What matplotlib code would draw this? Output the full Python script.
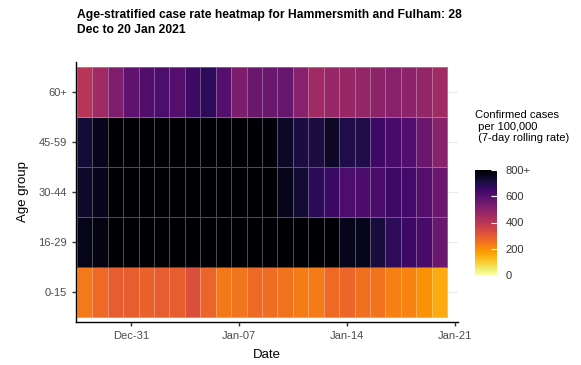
import numpy as np
import pandas as pd
import matplotlib
matplotlib.use("Agg")
import matplotlib.pyplot as plt
import matplotlib.dates as mdates

plt.rcParams['font.family'] = ['Liberation Sans', 'DejaVu Sans']

dates = pd.date_range('2020-12-28', '2021-01-20', freq='D')
age_groups = ['0-15', '16-29', '30-44', '45-59', '60+']

# 7-day rolling rate per 100,000 (values above 800 show as 800+)
rate_0_15 = [236, 268, 292, 288, 284, 292, 288, 328, 276, 240, 244, 264,
             260, 248, 232, 232, 264, 272, 256, 248, 224, 216, 192, 152]
rate_16_29 = [764, 772, 880, 920, 950, 980, 1000, 990, 960, 940, 930, 910,
              900, 890, 870, 850, 830, 760, 760, 716, 676, 644, 624, 560]
rate_30_44 = [740, 760, 870, 910, 940, 960, 970, 950, 930, 900, 880, 850,
              820, 760, 728, 680, 656, 616, 620, 620, 648, 632, 604, 560]
rate_45_59 = [724, 760, 850, 880, 900, 910, 900, 880, 860, 840, 830, 815,
              790, 744, 712, 712, 744, 700, 700, 648, 628, 612, 560, 500]
rate_60 = [408, 456, 520, 584, 608, 616, 604, 648, 676, 600, 524, 560,
           560, 568, 504, 456, 472, 472, 480, 496, 504, 492, 480, 456]

values = np.array([rate_0_15, rate_16_29, rate_30_44, rate_45_59, rate_60])

fig = plt.figure(figsize=(5.81, 3.65), dpi=100)
ax = fig.add_axes([0.1308, 0.1178, 0.6575, 0.7122])

xnum = mdates.date2num(dates)
xedges = np.append(xnum - 0.5, xnum[-1] + 0.5)
yedges = np.arange(len(age_groups) + 1) - 0.5

ax.set_axisbelow(True)
ax.grid(axis='y', color='#ebebeb', linewidth=0.8)
mesh = ax.pcolormesh(xedges, yedges, values, cmap='inferno_r', vmin=0, vmax=800,
                     edgecolors=(1, 1, 1, 0.3), linewidth=0.6)

ax.set_xlim(xnum[0] - 0.55, mdates.date2num(pd.Timestamp('2021-01-21')) + 0.2)
ax.set_ylim(-0.6, len(age_groups) - 0.4)
ax.set_yticks(range(len(age_groups)))
ax.set_yticklabels(age_groups)
ticks = pd.to_datetime(['2020-12-31', '2021-01-07', '2021-01-14', '2021-01-21'])
ax.set_xticks(mdates.date2num(ticks))
ax.xaxis.set_major_formatter(mdates.DateFormatter('%b-%d'))

for side in ['top', 'right']:
    ax.spines[side].set_visible(False)
for side in ['left', 'bottom']:
    ax.spines[side].set_linewidth(1.0)
ax.tick_params(axis='both', labelsize=8, colors='#4d4d4d', length=3, width=1)
ax.tick_params(axis='both', color='#333333')

ax.set_xlabel('Date', fontsize=9.5, labelpad=6)
ax.set_ylabel('Age group', fontsize=9.5, labelpad=7)

fig.text(0.133, 0.974, 'Age-stratified case rate heatmap for Hammersmith and Fulham: 28\nDec to 20 Jan 2021',
         fontsize=8.7, fontweight='bold', va='top', ha='left', linespacing=1.3)

cax = fig.add_axes([475 / 581, 1 - 275 / 365, 22 / 581, 105 / 365])
cb = fig.colorbar(mesh, cax=cax, extend='neither')
cb.set_ticks([0, 200, 400, 600, 800])
cb.set_ticklabels(['0', '200', '400', '600', '800+'])
cb.outline.set_visible(False)
cax.tick_params(labelsize=8, colors='#333333', length=4, width=0.8, direction='in', pad=6)
cax.tick_params(color='white')
fig.text(475 / 581, 1 - 110 / 365, 'Confirmed cases\n per 100,000\n (7-day rolling rate)',
         fontsize=8, va='top', ha='left', linespacing=1.2)

fig.savefig('out.png', dpi=100)
